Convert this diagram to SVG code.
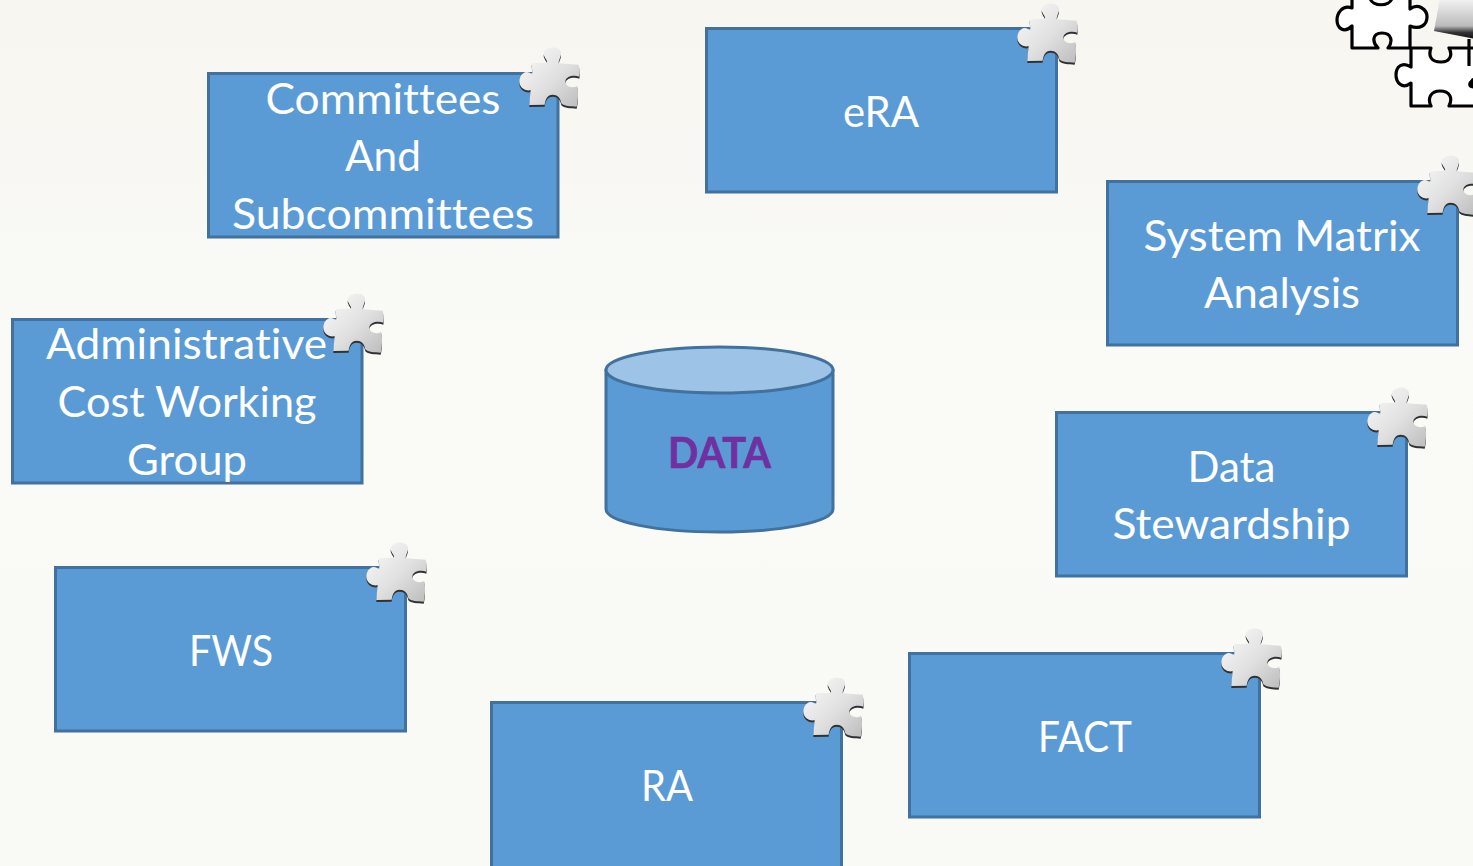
<svg xmlns="http://www.w3.org/2000/svg" width="1473" height="866" viewBox="0 0 1473 866">
<style>
.box{fill:#5b9bd5;stroke:#41719c;stroke-width:3}
.t{font-family:Lato,"Liberation Sans",sans-serif;font-size:42px;fill:#fff;text-anchor:middle;font-variant-ligatures:none}
.j{fill:#fff;stroke:#000;stroke-width:3.2;stroke-linejoin:round}
</style>
<defs>
<linearGradient id="bg" x1="0" y1="0" x2="0" y2="1"><stop offset="0" stop-color="#f7f6f1"/><stop offset=".4" stop-color="#fafaf6"/><stop offset="1" stop-color="#f9f9f5"/></linearGradient>
<linearGradient id="pz" x1="0" y1="0" x2="1" y2="1"><stop offset="0" stop-color="#fbfbfb"/><stop offset=".55" stop-color="#e0e0e0"/><stop offset="1" stop-color="#bcbcbc"/></linearGradient>
<linearGradient id="gl" x1="0" y1="0" x2="0" y2="1"><stop offset="0" stop-color="#f5f5f5"/><stop offset=".68" stop-color="#bbb"/><stop offset=".84" stop-color="#333"/><stop offset="1" stop-color="#111"/></linearGradient>
<path id="pc" d="M95 70L140 68C146 64 132 54 131 42C131 22 170 16 181 32C188 46 176 56 176 70L236 74C241 90 240 100 238 110C222 104 198 108 196 124C196 140 216 146 232 138C236 160 234 185 230 200C212 200 192 198 184 190C182 174 172 164 158 164C142 164 136 178 134 194L88 195C89 178 91 162 92 150C82 154 64 148 59 132C55 114 66 97 80 96C88 96 92 102 97 100Z"/>
<symbol id="piece" overflow="visible">
<g transform="scale(.3333)">
<use href="#pc" transform="translate(0 6)" fill="#2f3235"/>
<use href="#pc" fill="url(#pz)"/>
</g>
</symbol>
</defs>
<rect width="1473" height="866" fill="url(#bg)"/>
<g id="corner-puzzle">
<path class="j" d="M1352 -5L1352 8C1342 4 1337 14 1337 20C1337 28 1344 34 1352 26L1352 48L1378 48C1372 42 1372 33 1382 33C1392 33 1393 42 1388 48L1410 48L1410 26C1420 30 1427 25 1427 17C1427 9 1418 3 1410 9L1410 -5Z"/>
<path d="M1370 -2C1372 7 1390 7 1392 -2Z" fill="#fafaf6" stroke="#000" stroke-width="3.200"/>
<path class="j" d="M1411 48L1431 48C1428 56 1431 62 1441 62C1450 62 1453 55 1449 48L1475 48L1475 80C1470 78 1472 86 1475 87L1475 106L1449 106C1453 98 1450 91 1440 91C1431 91 1427 98 1431 106L1411 106L1411 83C1402 90 1396 82 1396 75C1396 67 1402 61 1411 67Z"/>
<path d="M1440 -2L1434 31L1475 39V-2Z" fill="url(#gl)"/>
<path d="M1469 39V66M1475 80C1468 82 1468 87 1475 87" fill="none" stroke="#000" stroke-width="3.200"/>
</g>
<g id="committees"><rect class="box" x="208.500" y="73.500" width="349.500" height="163.500"/><text class="t" x="383" y="114" textLength="235" lengthAdjust="spacingAndGlyphs">Committees</text><text class="t" x="383" y="171" textLength="76" lengthAdjust="spacingAndGlyphs">And</text><text class="t" x="383" y="229" textLength="302" lengthAdjust="spacingAndGlyphs">Subcommittees</text><use href="#piece" x="500" y="40"/></g>
<g id="era"><rect class="box" x="706.500" y="28.500" width="350" height="163.500"/><text class="t" x="881" y="127" textLength="76" lengthAdjust="spacingAndGlyphs">eRA</text><use href="#piece" x="998" y="-4"/></g>
<g id="system-matrix"><rect class="box" x="1107.500" y="181.500" width="350" height="163.500"/><text class="t" x="1282" y="251" textLength="277" lengthAdjust="spacingAndGlyphs">System Matrix</text><text class="t" x="1282" y="308" textLength="156" lengthAdjust="spacingAndGlyphs">Analysis</text><use href="#piece" x="1398" y="148"/></g>
<g id="admin-cost"><rect class="box" x="12.500" y="319.500" width="349.500" height="163.500"/><text class="t" x="186.500" y="359" textLength="281" lengthAdjust="spacingAndGlyphs">Administrative</text><text class="t" x="187" y="417" textLength="259" lengthAdjust="spacingAndGlyphs">Cost Working</text><text class="t" x="187" y="475" textLength="120" lengthAdjust="spacingAndGlyphs">Group</text><use href="#piece" x="304" y="286"/></g>
<g id="data-stewardship"><rect class="box" x="1056.500" y="412.500" width="350" height="163.500"/><text class="t" x="1231.500" y="482" textLength="88" lengthAdjust="spacingAndGlyphs">Data</text><text class="t" x="1231.500" y="539" textLength="238" lengthAdjust="spacingAndGlyphs">Stewardship</text><use href="#piece" x="1348" y="380"/></g>
<g id="fws"><rect class="box" x="55.500" y="567.500" width="350" height="163.500"/><text class="t" x="231" y="666" textLength="84" lengthAdjust="spacingAndGlyphs">FWS</text><use href="#piece" x="347" y="535"/></g>
<g id="ra"><rect class="box" x="491.500" y="702.500" width="350" height="170"/><text class="t" x="667" y="801" textLength="52" lengthAdjust="spacingAndGlyphs">RA</text><use href="#piece" x="784" y="670"/></g>
<g id="fact"><rect class="box" x="909.500" y="653.500" width="350" height="163.500"/><text class="t" x="1085" y="752" textLength="94" lengthAdjust="spacingAndGlyphs">FACT</text><use href="#piece" x="1202" y="621"/></g>
<g id="data">
<path d="M606 370V509C606 522 657 532 719 532C781 532 833 522 833 509V370Z" fill="#5b9bd5" stroke="#41719c" stroke-width="3"/>
<ellipse cx="719.500" cy="370" rx="113.500" ry="23" fill="#9dc3e6" stroke="#41719c" stroke-width="3"/>
<text x="719.500" y="468" font-family="Lato,'Liberation Sans',sans-serif" font-size="42" font-weight="700" fill="#7030a0" stroke="#7030a0" stroke-width=".7" text-anchor="middle" textLength="103" lengthAdjust="spacingAndGlyphs">DATA</text>
</g>
<g id="connectors"></g>
</svg>
